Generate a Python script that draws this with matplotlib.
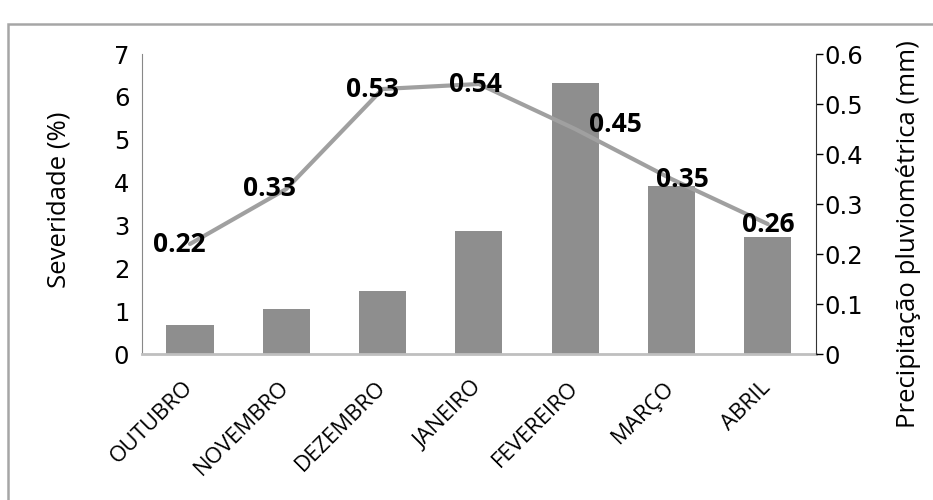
import numpy as np
import matplotlib.pyplot as plt
from matplotlib.patches import Rectangle

meses = ['OUTUBRO', 'NOVEMBRO', 'DEZEMBRO', 'JANEIRO', 'FEVEREIRO', 'MARÇO', 'ABRIL']
severidade = [0.68, 1.05, 1.47, 2.87, 6.32, 3.92, 2.73]
precipitacao = [0.22, 0.33, 0.53, 0.54, 0.45, 0.35, 0.26]
# deslocamento dos rótulos (pixels) em relação ao ponto
desloc = [(-11, 0), (-17, 0), (-10, 0), (-3, 0), (40, 5), (11, 0), (1, 0)]

fig = plt.figure(figsize=(9.33, 5.0), dpi=100)
fig.patches.append(Rectangle((8 / 933, -0.1), 1.2, 1 - 24 / 500 + 0.1,
                             transform=fig.transFigure, fill=False,
                             edgecolor='#a6a6a6', lw=1.8))

ax = fig.add_axes([0.152, 0.292, 0.7225, 0.600])
x = np.arange(len(meses))
ax.bar(x, severidade, width=0.49, color='#8e8e8e', zorder=2)
ax.set_xlim(-0.5, len(meses) - 0.5)
ax.set_ylim(0, 7)
ax.set_yticks(range(0, 8))
ax.tick_params(axis='y', length=0, pad=9, labelsize=17.5)
ax.tick_params(axis='x', length=0, pad=22)
ax.set_xticks(x)
ax.set_xticklabels(meses, rotation=45, ha='right', va='center',
                   rotation_mode='anchor', fontsize=16, family='Open Sans')
for t in ax.get_yticklabels():
    t.set_family('DejaVu Sans')
ax.spines['top'].set_visible(False)
ax.spines['right'].set_visible(False)
ax.spines['left'].set_color('#888888')
ax.spines['bottom'].set_color('#bfbfbf')
ax.spines['bottom'].set_linewidth(2)
ax.set_ylabel('Severidade (%)', family='Open Sans', fontsize=18.5)
ax.yaxis.set_label_coords(-0.104, 0.513)

ax2 = ax.twinx()
ax2.plot(x, precipitacao, color='#a0a0a0', lw=3, zorder=3, solid_capstyle='round')
ax2.set_ylim(0, 0.6)
ax2.set_yticks(np.arange(0, 0.61, 0.1))
ax2.set_yticklabels(['0', '0.1', '0.2', '0.3', '0.4', '0.5', '0.6'])
ax2.tick_params(axis='y', length=5, width=1, pad=1, labelsize=17.5)
for t in ax2.get_yticklabels():
    t.set_family('DejaVu Sans')
for s in ['top', 'left', 'bottom']:
    ax2.spines[s].set_visible(False)
ax2.spines['right'].set_color('#333333')
ax2.set_ylabel('Precipitação pluviométrica (mm)', family='Open Sans', fontsize=18.5)
ax2.yaxis.set_label_coords(1.119, 0.40)

for xi, v, (dx, dy) in zip(x, precipitacao, desloc):
    ax2.annotate(f'{v:.2f}', (xi, v), xytext=(dx, dy), textcoords='offset pixels',
                 ha='center', va='center', fontsize=19, fontweight='bold',
                 family='Open Sans', zorder=4)

fig.savefig('out.png', dpi=100)
